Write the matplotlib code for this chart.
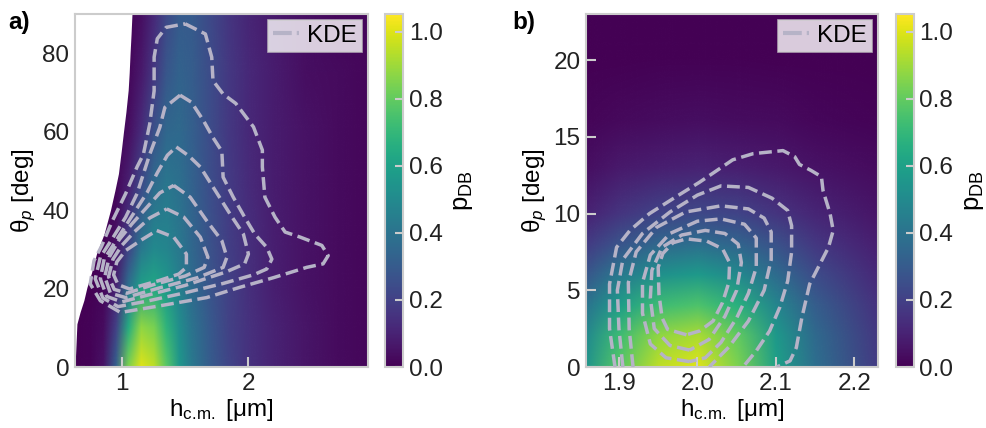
import numpy as np
import matplotlib
matplotlib.use('Agg')
import matplotlib.pyplot as plt
from matplotlib.image import NonUniformImage
from matplotlib.lines import Line2D
from matplotlib.colors import Normalize

# ---- panel a: p_DB map (rows = theta, cols = h) ----
h_a = [0.63, 0.75, 0.85, 0.95, 1.05, 1.15, 1.25, 1.35, 1.45, 1.55, 1.7, 1.85, 2.0, 2.2, 2.45, 2.7, 2.95]
theta_a = [0, 10, 20, 30, 45, 60, 75, 90]
pdb_a = [
    [0.00, 0.01, 0.05, 0.32, 0.85, 1.00, 0.95, 0.78, 0.56, 0.42, 0.30, 0.21, 0.15, 0.10, 0.06, 0.03, 0.02],
    [0.00, 0.01, 0.03, 0.20, 0.65, 0.88, 0.84, 0.68, 0.52, 0.40, 0.29, 0.20, 0.15, 0.10, 0.06, 0.03, 0.02],
    [0.00, 0.00, 0.02, 0.10, 0.40, 0.60, 0.63, 0.56, 0.46, 0.37, 0.27, 0.20, 0.14, 0.09, 0.05, 0.03, 0.02],
    [0.00, 0.00, 0.01, 0.05, 0.22, 0.42, 0.50, 0.48, 0.42, 0.35, 0.26, 0.19, 0.14, 0.09, 0.05, 0.03, 0.02],
    [0.00, 0.00, 0.00, 0.02, 0.10, 0.25, 0.38, 0.42, 0.39, 0.33, 0.25, 0.18, 0.13, 0.08, 0.05, 0.03, 0.02],
    [0.00, 0.00, 0.00, 0.01, 0.04, 0.13, 0.26, 0.35, 0.36, 0.32, 0.24, 0.17, 0.12, 0.08, 0.05, 0.03, 0.02],
    [0.00, 0.00, 0.00, 0.00, 0.02, 0.07, 0.17, 0.28, 0.33, 0.31, 0.24, 0.17, 0.12, 0.08, 0.04, 0.03, 0.02],
    [0.00, 0.00, 0.00, 0.00, 0.01, 0.04, 0.12, 0.23, 0.30, 0.30, 0.23, 0.16, 0.11, 0.07, 0.04, 0.02, 0.02],
]
# edge of the region without data (left, white)
edge_theta = [0, 11, 14, 17, 20.3, 24, 28.9, 34, 40, 45, 49.3, 55, 60, 65, 70.6, 75, 80, 85, 90]
edge_h = [0.63, 0.645, 0.67, 0.70, 0.724, 0.76, 0.80, 0.86, 0.91, 0.945, 0.973, 0.995, 1.013, 1.032,
          1.05, 1.058, 1.065, 1.073, 1.08]

# KDE contour lines, (h, theta)
kde_a_1 = [(1.50, 87.5), (1.66, 84.9), (1.71, 79.0), (1.72, 73.0), (1.80, 69.6), (1.90, 67.2), (2.04, 61.2),
           (2.11, 55.3), (2.11, 51.0), (2.13, 43.3), (2.21, 38.2), (2.29, 34.4), (2.41, 33.1), (2.58, 31.0),
           (2.63, 28.4), (2.59, 26.3), (2.46, 25.4), (2.20, 22.8), (1.93, 20.3), (1.67, 17.7), (1.30, 15.6),
           (0.99, 13.9), (0.83, 16.9), (0.75, 21.2), (0.78, 27.1), (0.84, 30.8), (0.92, 36.9), (1.03, 44.2),
           (1.12, 51.0), (1.17, 54.2), (1.22, 61.9), (1.255, 70.4), (1.255, 79.0), (1.28, 83.7), (1.35, 86.6)]
kde_a_2 = [(1.46, 69.3), (1.55, 67.5), (1.645, 62.8), (1.72, 58.5), (1.79, 55.0), (1.80, 48.4), (1.88, 43.3),
           (1.97, 38.2), (2.05, 33.9), (2.145, 30.5), (2.185, 27.5), (2.145, 25.0), (2.04, 23.5), (1.80, 21.3),
           (1.51, 19.0), (1.20, 16.8), (0.97, 15.4), (0.85, 17.6), (0.79, 22.5), (0.83, 28.0), (0.93, 33.0),
           (1.03, 38.2), (1.12, 44.2), (1.22, 54.2), (1.30, 61.1), (1.34, 66.2)]
kde_a_3 = [(1.43, 56.1), (1.53, 53.8), (1.62, 51.0), (1.72, 45.9), (1.855, 39.0), (1.96, 33.9), (2.00, 28.8),
           (1.97, 26.3), (1.82, 24.2), (1.50, 20.8), (1.20, 18.3), (1.00, 16.6), (0.88, 18.0), (0.83, 22.5),
           (0.86, 27.5), (0.95, 32.0), (1.11, 40.0), (1.20, 44.5), (1.28, 49.5), (1.36, 54.0)]
kde_a_4 = [(1.41, 46.3), (1.54, 43.3), (1.67, 37.3), (1.79, 32.2), (1.83, 28.0), (1.80, 25.4), (1.60, 22.8),
           (1.30, 20.2), (1.03, 17.7), (0.91, 18.8), (0.865, 23.0), (0.90, 28.0), (0.98, 32.5), (1.08, 36.5),
           (1.20, 40.8), (1.30, 44.4)]
kde_a_5 = [(1.355, 40.3), (1.49, 38.2), (1.62, 33.1), (1.68, 28.0), (1.65, 25.4), (1.50, 23.2), (1.25, 21.0),
           (1.04, 18.8), (0.94, 19.8), (0.895, 23.0), (0.93, 27.5), (1.00, 31.0), (1.10, 34.5), (1.22, 38.0)]
kde_a_6 = [(1.276, 34.8), (1.41, 33.1), (1.51, 28.8), (1.51, 25.4), (1.45, 23.7), (1.29, 22.0), (1.06, 19.9),
           (0.97, 21.0), (0.935, 23.5), (0.96, 26.8), (1.03, 29.7), (1.16, 32.5)]

# ---- panel b ----
h_b = [1.858, 1.9, 1.95, 2.0, 2.05, 2.1, 2.15, 2.23]
theta_b = [0, 2, 4, 6, 8, 10, 13, 16, 20, 23]
pdb_b = [
    [0.55, 0.78, 0.95, 1.00, 0.85, 0.60, 0.38, 0.18],
    [0.50, 0.72, 0.88, 0.92, 0.80, 0.56, 0.36, 0.17],
    [0.40, 0.58, 0.72, 0.76, 0.67, 0.48, 0.31, 0.15],
    [0.28, 0.42, 0.53, 0.57, 0.50, 0.37, 0.24, 0.12],
    [0.18, 0.27, 0.35, 0.38, 0.34, 0.26, 0.17, 0.09],
    [0.10, 0.16, 0.21, 0.23, 0.21, 0.16, 0.11, 0.06],
    [0.04, 0.07, 0.09, 0.10, 0.09, 0.07, 0.05, 0.03],
    [0.015, 0.025, 0.035, 0.04, 0.035, 0.03, 0.02, 0.01],
    [0.00, 0.00, 0.005, 0.005, 0.005, 0.00, 0.00, 0.00],
    [0.00, 0.00, 0.00, 0.00, 0.00, 0.00, 0.00, 0.00],
]
kde_b_1 = [(1.895, 0.0), (1.888, 2.5), (1.888, 5.4), (1.897, 7.8), (1.914, 8.9), (1.939, 10.0), (1.973, 11.1),
           (2.003, 12.05), (2.045, 13.5), (2.071, 13.9), (2.109, 14.1), (2.124, 13.7), (2.130, 13.2), (2.145, 12.8),
           (2.158, 12.4), (2.160, 11.5), (2.169, 10.0), (2.173, 8.9), (2.167, 7.8), (2.154, 6.5), (2.143, 5.4),
           (2.133, 3.2), (2.126, 1.26), (2.118, 0.4), (2.101, 0.0)]
kde_b_2 = [(1.905, 0.0), (1.900, 2.5), (1.898, 5.0), (1.905, 7.0), (1.930, 8.7), (1.965, 10.1), (2.000, 11.2),
           (2.030, 11.8), (2.065, 11.7), (2.095, 11.0), (2.115, 10.2), (2.120, 9.2), (2.120, 7.5), (2.115, 5.6),
           (2.105, 3.9), (2.092, 2.35), (2.075, 1.05), (2.058, 0.0)]
kde_b_3 = [(1.918, 0.0), (1.913, 2.5), (1.912, 5.5), (1.922, 7.5), (1.948, 9.1), (1.985, 10.1), (2.030, 10.5),
           (2.065, 10.3), (2.085, 9.7), (2.094, 8.8), (2.094, 7.0), (2.085, 5.0), (2.065, 3.0), (2.040, 1.3),
           (2.015, 0.0)]
kde_b_4 = [(1.99, 0.35), (1.96, 0.6), (1.94, 1.5), (1.93, 3.5), (1.93, 5.5), (1.94, 7.3), (1.965, 8.7),
           (2.00, 9.5), (2.03, 9.65), (2.06, 9.3), (2.075, 8.4), (2.075, 6.5), (2.065, 4.8), (2.05, 3.2),
           (2.03, 1.6), (2.01, 0.6)]
kde_b_5 = [(1.99, 1.1), (1.965, 1.4), (1.945, 2.5), (1.94, 4.5), (1.942, 6.3), (1.955, 7.8), (1.98, 8.6),
           (2.01, 8.9), (2.035, 8.7), (2.052, 8.0), (2.056, 6.8), (2.05, 5.0), (2.035, 3.3), (2.015, 1.8)]
kde_b_6 = [(1.986, 2.1), (1.962, 2.45), (1.955, 3.2), (1.951, 4.75), (1.950, 6.5), (1.956, 7.4), (1.969, 8.1),
           (1.986, 8.35), (2.012, 8.2), (2.032, 7.7), (2.041, 6.8), (2.040, 5.5), (2.032, 4.2), (2.020, 3.0),
           (2.003, 2.35)]

kde_color = '#b6b3c7'
grey = '#cccccc'
fs = 17.5

plt.rcParams.update({
    'font.family': ['Liberation Sans', 'DejaVu Sans'],
    'mathtext.fontset': 'custom',
    'mathtext.rm': 'Liberation Sans',
    'mathtext.it': 'Liberation Sans:italic',
    'mathtext.bf': 'Liberation Sans:bold',
    'font.size': fs,
    'axes.edgecolor': grey,
    'axes.linewidth': 1.5,
    'xtick.direction': 'in', 'ytick.direction': 'in',
    'xtick.color': grey, 'ytick.color': grey,
    'xtick.labelcolor': '#222222', 'ytick.labelcolor': '#222222',
    'xtick.major.size': 7, 'ytick.major.size': 7,
    'xtick.major.width': 1.5, 'ytick.major.width': 1.5,
    'xtick.labelsize': fs, 'ytick.labelsize': fs,
    'xtick.major.pad': 4, 'ytick.major.pad': 4,
})

fig = plt.figure(figsize=(9.87, 4.28), dpi=100)
ax_a = fig.add_axes([0.076, 0.1425, 0.2969, 0.8248])
cax_a = fig.add_axes([0.390, 0.1425, 0.0185, 0.8248])
ax_b = fig.add_axes([0.5937, 0.1425, 0.2958, 0.8248])
cax_b = fig.add_axes([0.9078, 0.1425, 0.0180, 0.8248])

norm = Normalize(vmin=0, vmax=1.053)


def draw_panel(ax, cax, hs, ths, vals, xlim, ylim, contours, closed):
    im = NonUniformImage(ax, interpolation='bilinear', cmap='viridis', norm=norm,
                         extent=(xlim[0], xlim[1], ylim[0], ylim[1]))
    im.set_data(np.array(hs), np.array(ths), np.array(vals))
    ax.add_image(im)
    for pts, cl in zip(contours, closed):
        pts = np.array(pts + [pts[0]] if cl else pts)
        ax.plot(pts[:, 0], pts[:, 1], color=kde_color, lw=2.5, ls='--',
                dash_joinstyle='round', dash_capstyle='butt', zorder=3)
    ax.set_xlim(*xlim)
    ax.set_ylim(*ylim)
    ax.set_xlabel(r'h$_{\mathrm{c.\!m.}}$ [μm]', labelpad=2)
    ax.set_ylabel('θ$_p$ [deg]', labelpad=3)
    handle = Line2D([], [], color=kde_color, lw=3, dashes=(4.5, 1.2))
    leg = ax.legend([handle], ['KDE'], loc='upper right', fancybox=False, framealpha=0.8,
                    edgecolor=grey, handlelength=1.05, handletextpad=0.35, borderpad=0.2,
                    borderaxespad=0.25, fontsize=fs)
    leg.get_frame().set_linewidth(1.2)
    cb = fig.colorbar(im, cax=cax)
    cb.set_ticks([0.0, 0.2, 0.4, 0.6, 0.8, 1.0])
    cb.ax.tick_params(direction='in', color=grey, length=6, width=1.5, labelsize=fs)
    cb.outline.set_edgecolor(grey)
    cb.outline.set_linewidth(1.5)
    cb.set_label(r'p$_{\mathrm{DB}}$', fontsize=fs + 1, labelpad=6)
    return im


draw_panel(ax_a, cax_a, h_a, theta_a, pdb_a, (0.63, 2.945), (0, 90),
           [kde_a_1, kde_a_2, kde_a_3, kde_a_4, kde_a_5, kde_a_6], [True] * 6)
ax_a.fill_betweenx(edge_theta, 0.6, edge_h, color='white', lw=0, zorder=2)
ax_a.set_xticks([1, 2])
ax_a.set_yticks([0, 20, 40, 60, 80])

draw_panel(ax_b, cax_b, h_b, theta_b, pdb_b, (1.858, 2.23), (0, 23),
           [kde_b_1, kde_b_2, kde_b_3, kde_b_4, kde_b_5, kde_b_6],
           [False, False, False, True, True, True])
ax_b.set_xticks([1.9, 2.0, 2.1, 2.2])
ax_b.set_yticks([0, 5, 10, 15, 20])

fig.text(0.008, 0.975, 'a)', fontsize=fs, fontweight='bold', va='top')
fig.text(0.519, 0.975, 'b)', fontsize=fs, fontweight='bold', va='top')

fig.savefig('out.png', dpi=100)
